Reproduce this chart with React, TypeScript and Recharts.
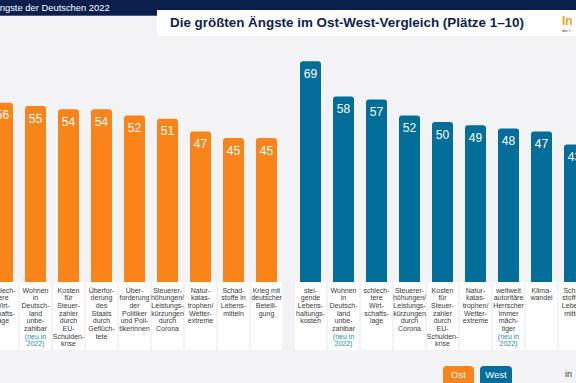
import { BarChart, Bar, XAxis, YAxis, LabelList } from 'recharts'

const NAVY = '#0b1f4f'
const ORANGE = '#f8841a'
const BLUE = '#036e99'
const TEAL = '#1b8ea3'

// Ost, Plätze 2–10 (Platz 1 liegt links ausserhalb des Bildausschnitts)
const ostLabels = [
  'schlech-|tere|Wirt-|schafts-|lage',
  'Wohnen|in|Deutsch-|land|unbe-|zahlbar|(neu in|2022)',
  'Kosten|für|Steuer-|zahler|durch|EU-|Schulden-|krise',
  'Überfor-|derung|des|Staats|durch|Geflüch-|tete',
  'Über-|forderung|der|Politiker|und Poli-|tikerinnen',
  'Steuerer-|höhungen/|Leistungs-|kürzungen|durch|Corona',
  'Natur-|katas-|trophen/|Wetter-|extreme',
  'Schad-|stoffe in|Lebens-|mitteln',
  'Krieg mit|deutscher|Beteili-|gung',
]
const ostValues = [56, 55, 54, 54, 52, 51, 47, 45, 45]

// West, Plätze 1–9
const westLabels = [
  'stei-|gende|Lebens-|haltungs-|kosten',
  'Wohnen|in|Deutsch-|land|unbe-|zahlbar|(neu in|2022)',
  'schlech-|tere|Wirt-|schafts-|lage',
  'Steuerer-|höhungen/|Leistungs-|kürzungen|durch|Corona',
  'Kosten|für|Steuer-|zahler|durch|EU-|Schulden-|krise',
  'Natur-|katas-|trophen/|Wetter-|extreme',
  'weltweit|autoritäre|Herrscher|immer|mäch-|tiger|(neu in|2022)',
  'Klima-|wandel',
  'Schad-|stoffe in|Lebens-|mitteln',
]
const westValues = [69, 58, 57, 52, 50, 49, 48, 47, 43]

const FONT = '"Liberation Sans", Arial, sans-serif'

function LabelTick({ x, y, payload }: any) {
  const lines: string[] = String(payload.value).split('|')
  return (
    <g>
      <rect x={x - 15.5} y={y} width={31} height={68} fill="#ffffff" />
      {lines.map((l, i) => (
        <text
          key={i}
          x={x}
          y={y + 10.5 + i * 7.7}
          textAnchor="middle"
          fontSize={7}
          fontFamily={FONT}
          fill={l.startsWith('(neu') || l === '2022)' ? TEAL : '#3a3a3a'}
        >
          {l}
        </text>
      ))}
    </g>
  )
}

function Group({ labels, values, color, left }: {
  labels: string[]
  values: number[]
  color: string
  left: number
}) {
  const data = labels.map((name, i) => ({ name, value: values[i] }))
  return (
    <div style={{ position: 'absolute', left, top: 0 }}>
      <BarChart
        width={297}
        height={352}
        data={data}
        margin={{ top: 26, right: 0, left: 0, bottom: 0 }}
        barSize={21}
      >
        <XAxis
          dataKey="name"
          interval={0}
          height={70}
          axisLine={false}
          tickLine={false}
          tickSize={0}
          tickMargin={0}
          tick={<LabelTick />}
        />
        <YAxis hide domain={[0, 80]} />
        <Bar dataKey="value" fill={color} radius={[3, 3, 0, 0]} isAnimationActive={false}>
          <LabelList
            dataKey="value"
            position="insideTop"
            offset={8}
            fill="#ffffff"
            fontSize={12}
            fontFamily={FONT}
          />
        </Bar>
      </BarChart>
    </div>
  )
}

export default function App() {
  return (
    <div
      style={{
        position: 'fixed',
        left: 0,
        top: 0,
        width: 576,
        height: 383,
        overflow: 'hidden',
        background: '#f3f3f5',
        fontFamily: FONT,
      }}
    >
      <div style={{ position: 'absolute', left: 0, top: 0, width: 576, height: 15, background: NAVY }} />
      <div style={{ position: 'absolute', left: 0, top: 15, width: 157, height: 1, background: '#4a5a80' }} />
      <div style={{ position: 'absolute', left: -6.5, top: 2, color: '#ffffff', fontSize: 9.4, whiteSpace: 'nowrap' }}>
        Ängste der Deutschen 2022
      </div>
      <div style={{ position: 'absolute', left: 157, top: 10, width: 419, height: 26, background: '#ffffff' }} />
      <div
        style={{
          position: 'absolute',
          left: 170,
          top: 15,
          color: NAVY,
          fontSize: 13.4,
          fontWeight: 'bold',
          whiteSpace: 'nowrap',
        }}
      >
        Die größten Ängste im Ost-West-Vergleich (Plätze 1–10)
      </div>
      <div style={{ position: 'absolute', left: 562, top: 14, color: '#f5a31a', fontSize: 12, fontWeight: 'bold' }}>
        In
      </div>
      <div style={{ position: 'absolute', left: 562, top: 28, color: '#333', fontSize: 4, whiteSpace: 'nowrap' }}>
        der I
      </div>

      <Group labels={ostLabels} values={ostValues} color={ORANGE} left={-14.5} />
      <Group labels={westLabels} values={westValues} color={BLUE} left={293.5} />

      <div
        style={{
          position: 'absolute',
          left: 443,
          top: 366,
          width: 31,
          height: 22,
          borderRadius: 4,
          background: ORANGE,
          color: '#fff',
          fontSize: 9.5,
          textAlign: 'center',
          lineHeight: '17px',
        }}
      >
        Ost
      </div>
      <div
        style={{
          position: 'absolute',
          left: 480,
          top: 366,
          width: 32,
          height: 22,
          borderRadius: 4,
          background: BLUE,
          color: '#fff',
          fontSize: 9.5,
          textAlign: 'center',
          lineHeight: '17px',
        }}
      >
        West
      </div>
      <div style={{ position: 'absolute', left: 565, top: 369, color: '#333', fontSize: 9 }}>in</div>
    </div>
  )
}
